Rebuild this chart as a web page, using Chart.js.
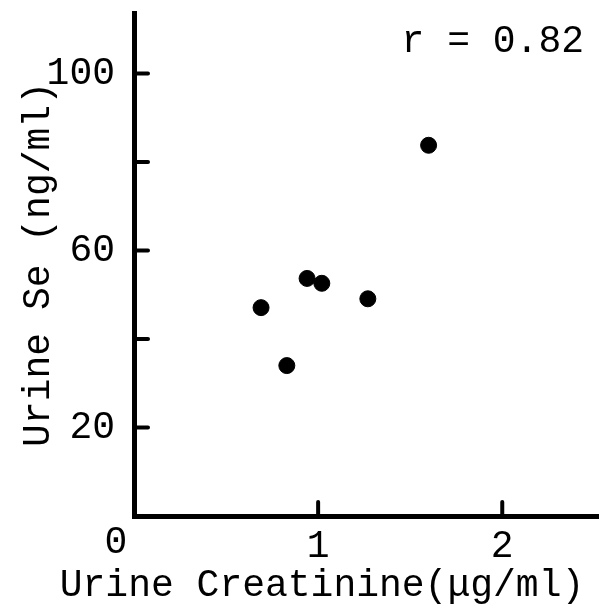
<!DOCTYPE html>
<html>
<head>
<meta charset="utf-8">
<script src="https://cdn.jsdelivr.net/npm/chart.js@4.4.0/dist/chart.umd.min.js"></script>
<style>
html,body{margin:0;padding:0;background:#fff;}
#wrap{width:600px;height:616px;}
</style>
</head>
<body>
<div id="wrap"><canvas id="c"></canvas></div>
<script>
// values
var creatinine=[0.69,0.83,0.94,1.02,1.27,1.60];
var urineSe=[47.1,34.0,53.7,52.6,49.1,83.8];
var xTicks=[1,2];
var yTicks=[20,40,60,80,100];
var yLabeled=[20,60,100];
var rText='r = 0.82';
var xTitle='Urine Creatinine(\u03bcg/ml)';
var yTitle='Urine Se (ng/ml)';
var mono='"Liberation Mono", "DejaVu Sans Mono", monospace';

var pts=[];
for (var i=0;i<creatinine.length;i++){pts.push({x:creatinine[i],y:urineSe[i]});}

// inward tick marks, origin "0", r value and x title
var paperPlugin={
  id:'paper',
  afterDraw:function(chart){
    var ctx=chart.ctx;
    var xs=chart.scales.x, ys=chart.scales.y;
    var a=chart.chartArea;
    ctx.save();
    ctx.strokeStyle='#000';
    ctx.lineWidth=4;
    ctx.lineCap='round';
    xTicks.forEach(function(v){
      var px=xs.getPixelForValue(v);
      ctx.beginPath();ctx.moveTo(px,a.bottom);ctx.lineTo(px,a.bottom-14);ctx.stroke();
    });
    yTicks.forEach(function(v){
      var py=ys.getPixelForValue(v);
      ctx.beginPath();ctx.moveTo(a.left,py);ctx.lineTo(a.left+14,py);ctx.stroke();
    });
    ctx.fillStyle='#000';
    ctx.font='38px '+mono;
    ctx.textAlign='center';
    ctx.textBaseline='top';
    ctx.fillText('0',xs.getPixelForValue(0)-18,a.bottom+8);
    ctx.textAlign='right';
    ctx.textBaseline='middle';
    ctx.fillText(rText,a.right-14,42);
    ctx.textAlign='center';
    ctx.fillText(xTitle,322,586);
    ctx.restore();
  }
};

function noPad(s){s.paddingTop=0;s.paddingBottom=0;s.paddingLeft=0;s.paddingRight=0;}

var ctx=document.getElementById('c').getContext('2d');
var chart=new Chart(ctx,{
  type:'scatter',
  data:{datasets:[{
    data:pts,
    backgroundColor:'#000',
    borderColor:'#000',
    pointRadius:8,
    pointHoverRadius:8
  }]},
  options:{
    responsive:true,
    maintainAspectRatio:false,
    animation:false,
    layout:{autoPadding:false,padding:{top:13,right:2,left:0,bottom:0}},
    plugins:{legend:{display:false},tooltip:{enabled:false}},
    scales:{
      x:{
        type:'linear',
        min:0,max:2.52,
        grid:{display:false,drawTicks:false},
        border:{display:true,color:'#000',width:5},
        afterBuildTicks:function(s){s.ticks=xTicks.map(function(v){return {value:v};});},
        afterFit:function(s){s.height=100;noPad(s);},
        ticks:{color:'#000',padding:8,maxRotation:0,font:{family:mono,size:38}}
      },
      y:{
        type:'linear',
        min:0,max:113.7,
        grid:{display:false,drawTicks:false},
        border:{display:true,color:'#000',width:5},
        afterBuildTicks:function(s){s.ticks=yTicks.map(function(v){return {value:v};});},
        afterFit:function(s){s.width=134;noPad(s);},
        ticks:{
          color:'#000',padding:19,font:{family:mono,size:38},
          callback:function(v){return yLabeled.indexOf(v)>=0?String(v):'';}
        },
        title:{display:true,text:yTitle,color:'#000',padding:{top:16,bottom:0},font:{family:mono,size:38}}
      }
    }
  },
  plugins:[paperPlugin]
});
</script>
</body>
</html>
